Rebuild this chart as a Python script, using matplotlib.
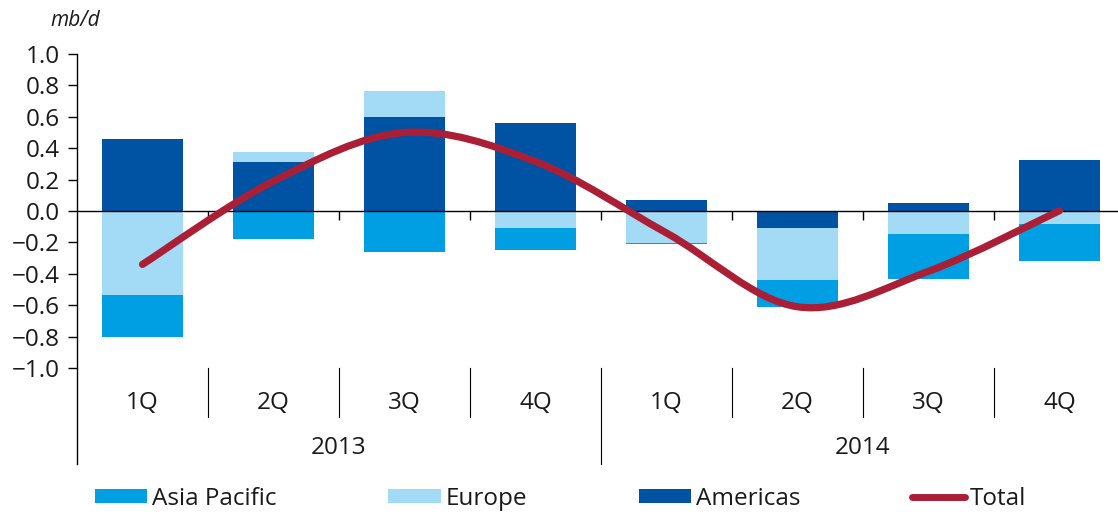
import matplotlib
matplotlib.use("Agg")
import matplotlib.pyplot as plt
from matplotlib.path import Path
from matplotlib.patches import PathPatch, Patch
from matplotlib.lines import Line2D
import numpy as np

# ---- data ----
quarters = ["1Q", "2Q", "3Q", "4Q", "1Q", "2Q", "3Q", "4Q"]
years = ["2013", "2014"]
asia_pacific = [-0.265, -0.18, -0.262, -0.142, -0.005, -0.169, -0.289, -0.241]
europe = [-0.535, 0.06, 0.165, -0.106, -0.205, -0.332, -0.144, -0.08]
americas = [0.461, 0.313, 0.598, 0.563, 0.07, -0.11, 0.049, 0.323]
total = [-0.34, 0.19, 0.50, 0.315, -0.14, -0.61, -0.384, 0.002]
yticks = [1.0, 0.8, 0.6, 0.4, 0.2, 0.0, -0.2, -0.4, -0.6, -0.8, -1.0]

C_ASIA = "#009FE3"
C_EUR = "#A3DAF6"
C_AME = "#0053A2"
C_TOT = "#AA1F35"
TXT = "#1a1a1a"
FS = 17.5

plt.rcParams["font.family"] = ["Open Sans", "DejaVu Sans"]

W, H = 1118, 514
fig = plt.figure(figsize=(W / 100, H / 100), dpi=100)
left_px, right_px, top_px, bot_px = 77, 1125, 54, 368
ax = fig.add_axes([left_px / W, 1 - bot_px / H, (right_px - left_px) / W, (bot_px - top_px) / H])

x = np.arange(len(quarters))
bw = 0.62
pos_base = np.zeros(len(x))
neg_base = np.zeros(len(x))
for vals, col in [(americas, C_AME), (europe, C_EUR), (asia_pacific, C_ASIA)]:
    v = np.array(vals)
    bottoms = np.where(v >= 0, pos_base, neg_base)
    ax.bar(x, v, bw, bottom=bottoms, color=col, linewidth=0, zorder=2)
    pos_base = pos_base + np.where(v >= 0, v, 0)
    neg_base = neg_base + np.where(v < 0, v, 0)

# smoothed total line (Bezier through the data points)
ty = np.array(total, dtype=float)
pts = np.column_stack([x, ty])
verts = [pts[0]]
codes = [Path.MOVETO]
n = len(pts)
for i in range(n - 1):
    p0 = pts[i - 1] if i > 0 else pts[i]
    p1 = pts[i]
    p2 = pts[i + 1]
    p3 = pts[i + 2] if i + 2 < n else pts[i + 1]
    c1 = p1 + (p2 - p0) / 6.0
    c2 = p2 - (p3 - p1) / 6.0
    verts += [c1, c2, p2]
    codes += [Path.CURVE4] * 3
path = Path(verts, codes)
ax.add_patch(PathPatch(path, facecolor="none", edgecolor=C_TOT, lw=5.2,
                       capstyle="round", joinstyle="round", zorder=4))

ax.set_xlim(-0.5, len(x) - 0.5)
ax.set_ylim(-1.0, 1.0)
ax.axhline(0, color="black", lw=1.0, zorder=3)
for s in ["top", "right", "bottom", "left"]:
    ax.spines[s].set_visible(False)

ax.set_yticks(yticks)
ax.set_yticklabels([f"{t:.1f}".replace("-", "\u2212") for t in yticks], fontsize=FS, color=TXT)
ax.tick_params(axis="y", direction="out", length=6.5, width=1, pad=6)
ax.set_xticks([])

xt = ax.get_xaxis_transform()
# left axis line extended through the category area
ax.add_line(Line2D([-0.5, -0.5], [1.0, -0.306], transform=xt, color="black", lw=1, clip_on=False))
# small ticks on zero line
for b in np.arange(0.5, len(x) - 0.5, 1.0):
    ax.vlines(b, -0.055, 0, color="black", lw=1, zorder=3)
# category separators
for b in np.arange(0.5, len(x) - 0.5, 1.0):
    ylow = -0.306 if b == 3.5 else -0.156
    ax.add_line(Line2D([b, b], [0.0, ylow], transform=xt, color="black", lw=0.8, clip_on=False))
for i, q in enumerate(quarters):
    ax.text(i, -0.11, q, transform=xt, ha="center", va="center", fontsize=FS, color=TXT)
for j, yr in enumerate(years):
    ax.text(1.5 + 4 * j, -0.255, yr, transform=xt, ha="center", va="center", fontsize=FS, color=TXT)

fig.text(50 / W, 1 - 21 / H, "mb/d", style="italic", fontsize=15, ha="left", va="center", color=TXT)

handles = [Patch(facecolor=C_ASIA), Patch(facecolor=C_EUR), Patch(facecolor=C_AME),
           Line2D([0], [0], color=C_TOT, lw=5, solid_capstyle="round")]
labels = ["Asia Pacific", "Europe", "Americas", "Total"]
fig.legend(handles, labels, ncol=4, loc="center left", bbox_to_anchor=(95 / W, 1 - 499 / H),
           frameon=False, fontsize=FS, handlelength=2.15, handleheight=0.5, handletextpad=0.2,
           columnspacing=4.6, borderpad=0, borderaxespad=0, labelcolor=TXT)

fig.savefig("out.png", dpi=100)
